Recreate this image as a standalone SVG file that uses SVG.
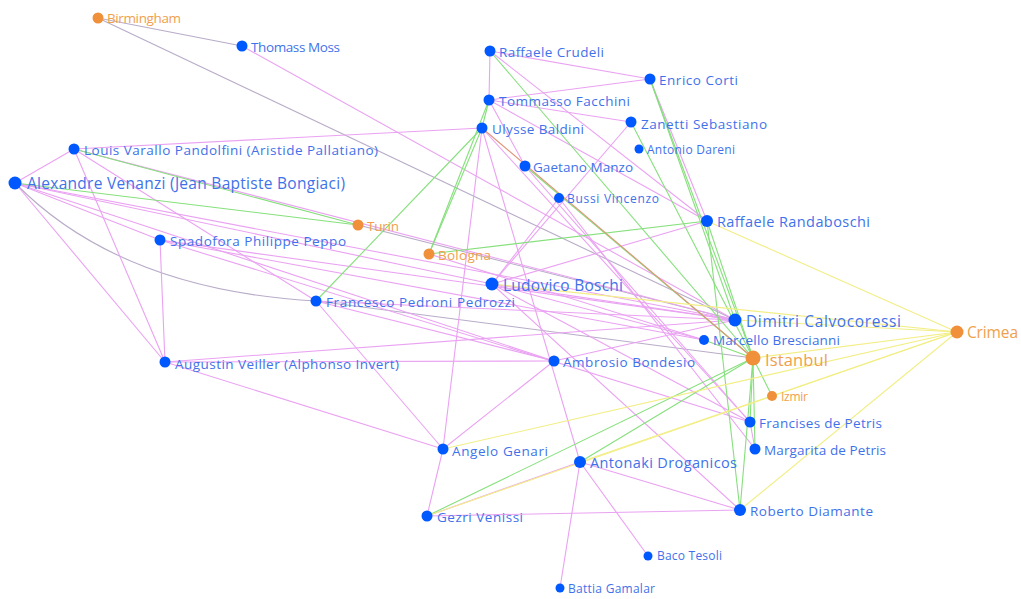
<svg xmlns="http://www.w3.org/2000/svg" width="1021" height="599" viewBox="0 0 1021 599">
<style>
.e line,.e path{fill:none;stroke-width:1.1}
.m{stroke:#eaa2f2}
.g{stroke:#86e07c}
.y{stroke:#f2ee86}
.gr{stroke:#b8acc8}
.o{stroke:#df9578}
.n circle{fill:#0059ff}
.c circle{fill:#f0903a}
text{font-family:"Open Sans","Noto Sans","Liberation Sans",sans-serif;font-size:13.5px;fill:#3f72ea}
.c text{fill:#f0a04c}
.s text{font-size:12px}
.b text{font-size:15.5px}
</style>
<rect width="1021" height="599" fill="#ffffff"/>
<g id="connectors" class="e">
<line class="gr" x1="98" y1="18" x2="242" y2="46"/>
<line class="gr" x1="98" y1="18" x2="735" y2="320"/>
<path class="gr" d="M15,183 Q120,290 316,301"/>
<line class="gr" x1="316" y1="301" x2="753" y2="358"/>
<line class="gr" x1="358" y1="225" x2="735" y2="320"/>
<line class="m" x1="242" y1="46" x2="735" y2="320"/>
<line class="m" x1="490" y1="51" x2="650" y2="79"/>
<line class="m" x1="490" y1="51" x2="489" y2="100"/>
<line class="m" x1="490" y1="51" x2="707" y2="221"/>
<line class="m" x1="489" y1="100" x2="650" y2="79"/>
<line class="m" x1="489" y1="100" x2="631" y2="122"/>
<line class="m" x1="489" y1="100" x2="707" y2="221"/>
<line class="m" x1="489" y1="100" x2="525" y2="166"/>
<line class="m" x1="650" y1="79" x2="707" y2="221"/>
<line class="m" x1="74" y1="149" x2="482" y2="128"/>
<line class="m" x1="74" y1="149" x2="15" y2="183"/>
<line class="m" x1="74" y1="149" x2="165" y2="362"/>
<line class="m" x1="74" y1="149" x2="316" y2="301"/>
<line class="m" x1="74" y1="149" x2="735" y2="320"/>
<line class="m" x1="482" y1="128" x2="443" y2="449"/>
<line class="m" x1="482" y1="128" x2="580" y2="462"/>
<line class="m" x1="482" y1="128" x2="750" y2="422"/>
<line class="m" x1="631" y1="122" x2="492" y2="284"/>
<line class="m" x1="559" y1="198" x2="492" y2="284"/>
<line class="m" x1="559" y1="198" x2="755" y2="449"/>
<line class="m" x1="525" y1="166" x2="750" y2="422"/>
<line class="m" x1="707" y1="221" x2="492" y2="284"/>
<line class="m" x1="15" y1="183" x2="160" y2="240"/>
<line class="m" x1="15" y1="183" x2="165" y2="362"/>
<line class="m" x1="15" y1="183" x2="554" y2="361"/>
<line class="m" x1="15" y1="183" x2="735" y2="320"/>
<line class="m" x1="15" y1="183" x2="492" y2="284"/>
<line class="m" x1="160" y1="240" x2="165" y2="362"/>
<line class="m" x1="160" y1="240" x2="735" y2="320"/>
<line class="m" x1="160" y1="240" x2="704" y2="340"/>
<line class="m" x1="160" y1="240" x2="750" y2="422"/>
<line class="m" x1="165" y1="362" x2="443" y2="449"/>
<line class="m" x1="165" y1="362" x2="554" y2="361"/>
<line class="m" x1="165" y1="362" x2="735" y2="320"/>
<line class="m" x1="316" y1="301" x2="443" y2="449"/>
<line class="m" x1="316" y1="301" x2="735" y2="320"/>
<line class="m" x1="316" y1="301" x2="554" y2="361"/>
<line class="m" x1="429" y1="254" x2="704" y2="340"/>
<line class="m" x1="492" y1="284" x2="735" y2="320"/>
<line class="m" x1="492" y1="284" x2="704" y2="340"/>
<line class="m" x1="492" y1="284" x2="740" y2="510"/>
<line class="m" x1="492" y1="284" x2="750" y2="422"/>
<line class="m" x1="554" y1="361" x2="443" y2="449"/>
<line class="m" x1="554" y1="361" x2="735" y2="320"/>
<line class="m" x1="443" y1="449" x2="427" y2="516"/>
<line class="m" x1="580" y1="462" x2="427" y2="516"/>
<line class="m" x1="580" y1="462" x2="740" y2="510"/>
<line class="m" x1="580" y1="462" x2="648" y2="556"/>
<line class="m" x1="580" y1="462" x2="560" y2="588"/>
<line class="m" x1="427" y1="516" x2="740" y2="510"/>
<line class="m" x1="750" y1="422" x2="755" y2="449"/>
<line class="g" x1="15" y1="183" x2="358" y2="225"/>
<line class="g" x1="74" y1="149" x2="358" y2="225"/>
<line class="g" x1="489" y1="100" x2="482" y2="128"/>
<line class="g" x1="489" y1="100" x2="429" y2="254"/>
<line class="g" x1="482" y1="128" x2="429" y2="254"/>
<line class="g" x1="482" y1="128" x2="316" y2="301"/>
<line class="g" x1="490" y1="51" x2="753" y2="358"/>
<line class="g" x1="650" y1="79" x2="753" y2="358"/>
<line class="g" x1="650" y1="79" x2="735" y2="320"/>
<line class="g" x1="631" y1="122" x2="753" y2="358"/>
<line class="g" x1="525" y1="166" x2="753" y2="358"/>
<line class="g" x1="429" y1="254" x2="707" y2="221"/>
<line class="g" x1="707" y1="221" x2="753" y2="358"/>
<line class="g" x1="707" y1="221" x2="740" y2="510"/>
<line class="g" x1="704" y1="340" x2="753" y2="358"/>
<line class="g" x1="753" y1="358" x2="427" y2="516"/>
<line class="g" x1="753" y1="358" x2="580" y2="462"/>
<line class="g" x1="753" y1="358" x2="740" y2="510"/>
<line class="g" x1="753" y1="358" x2="755" y2="449"/>
<line class="g" x1="753" y1="358" x2="750" y2="422"/>
<line class="g" x1="753" y1="358" x2="772" y2="396"/>
<line class="o" x1="482" y1="128" x2="753" y2="358"/>
<line class="y" x1="957" y1="332" x2="707" y2="221"/>
<line class="y" x1="957" y1="332" x2="735" y2="320"/>
<line class="y" x1="957" y1="332" x2="492" y2="284"/>
<line class="y" x1="957" y1="332" x2="753" y2="358"/>
<line class="y" x1="957" y1="332" x2="443" y2="449"/>
<line class="y" x1="957" y1="332" x2="580" y2="462"/>
<line class="y" x1="957" y1="332" x2="427" y2="516"/>
<line class="y" x1="957" y1="332" x2="740" y2="510"/>
</g>
<g id="n-birmingham" class="c"><circle cx="98" cy="18" r="5.5"/><text x="107" y="18" dy="0.35em" textLength="74">Birmingham</text></g>
<g id="n-thomass-moss" class="n"><circle cx="242" cy="46" r="5.5"/><text x="251" y="47" dy="0.35em" textLength="89">Thomass Moss</text></g>
<g id="n-raffaele-crudeli" class="n"><circle cx="490" cy="51" r="5.5"/><text x="499" y="52" dy="0.35em" textLength="105">Raffaele Crudeli</text></g>
<g id="n-enrico-corti" class="n"><circle cx="650" cy="79" r="5.5"/><text x="659" y="80" dy="0.35em" textLength="79">Enrico Corti</text></g>
<g id="n-tommasso-facchini" class="n"><circle cx="489" cy="100" r="5.5"/><text x="499" y="101" dy="0.35em" textLength="131">Tommasso Facchini</text></g>
<g id="n-ulysse-baldini" class="n"><circle cx="482" cy="128" r="5.5"/><text x="492" y="129" dy="0.35em" textLength="92">Ulysse Baldini</text></g>
<g id="n-zanetti-sebastiano" class="n"><circle cx="631" cy="122" r="5.5"/><text x="641" y="124" dy="0.35em" textLength="126">Zanetti Sebastiano</text></g>
<g id="n-antonio-dareni" class="n s"><circle cx="639" cy="149" r="4.5"/><text x="647" y="150" dy="0.35em" textLength="88">Antonio Dareni</text></g>
<g id="n-louis-varallo" class="n"><circle cx="74" cy="149" r="5.5"/><text x="84" y="150" dy="0.35em" textLength="294">Louis Varallo Pandolfini (Aristide Pallatiano)</text></g>
<g id="n-gaetano-manzo" class="n"><circle cx="525" cy="166" r="5.5"/><text x="533" y="167" dy="0.35em" textLength="100">Gaetano Manzo</text></g>
<g id="n-alexandre-venanzi" class="n b"><circle cx="15" cy="183" r="6.5"/><text x="27" y="184" dy="0.35em" textLength="318">Alexandre Venanzi (Jean Baptiste Bongiaci)</text></g>
<g id="n-bussi-vincenzo" class="n s"><circle cx="559" cy="198" r="5"/><text x="567" y="199" dy="0.35em" textLength="92">Bussi Vincenzo</text></g>
<g id="n-turin" class="c"><circle cx="358" cy="225" r="5.5"/><text x="367" y="226" dy="0.35em" textLength="32">Turin</text></g>
<g id="n-raffaele-randaboschi" class="n"><circle cx="707" cy="221" r="6"/><text x="717" y="222" dy="0.35em" style="font-size:14.5px" textLength="153">Raffaele Randaboschi</text></g>
<g id="n-spadofora" class="n"><circle cx="160" cy="240" r="5.5"/><text x="170" y="241" dy="0.35em" textLength="176">Spadofora Philippe Peppo</text></g>
<g id="n-bologna" class="c"><circle cx="429" cy="254" r="5.5"/><text x="438" y="255" dy="0.35em" textLength="53">Bologna</text></g>
<g id="n-ludovico-boschi" class="n b"><circle cx="492" cy="284" r="6.5"/><text x="503" y="286" dy="0.35em" textLength="120">Ludovico Boschi</text></g>
<g id="n-francesco-pedroni" class="n"><circle cx="316" cy="301" r="5.5"/><text x="326" y="302" dy="0.35em" textLength="189">Francesco Pedroni Pedrozzi</text></g>
<g id="n-dimitri-calvocoressi" class="n b"><circle cx="735" cy="320" r="6.5"/><text x="746" y="322" dy="0.35em" textLength="155">Dimitri Calvocoressi</text></g>
<g id="n-crimea" class="c b"><circle cx="957" cy="332" r="6.5"/><text x="967" y="333" dy="0.35em" textLength="51">Crimea</text></g>
<g id="n-marcello-brescianni" class="n"><circle cx="704" cy="340" r="5"/><text x="713" y="340" dy="0.35em" textLength="127">Marcello Brescianni</text></g>
<g id="n-istanbul" class="c b"><circle cx="753" cy="358" r="7.5"/><text x="765" y="360" dy="0.35em" style="font-size:16.5px" textLength="63">Istanbul</text></g>
<g id="n-ambrosio-bondesio" class="n"><circle cx="554" cy="361" r="5.5"/><text x="563" y="362" dy="0.35em" textLength="132">Ambrosio Bondesio</text></g>
<g id="n-augustin-veiller" class="n"><circle cx="165" cy="362" r="5.5"/><text x="175" y="364" dy="0.35em" textLength="224">Augustin Veiller (Alphonso Invert)</text></g>
<g id="n-izmir" class="c s"><circle cx="772" cy="396" r="5"/><text x="781" y="397" dy="0.35em" textLength="27">Izmir</text></g>
<g id="n-francises-de-petris" class="n"><circle cx="750" cy="422" r="5.5"/><text x="759" y="423" dy="0.35em" textLength="123">Francises de Petris</text></g>
<g id="n-margarita-de-petris" class="n"><circle cx="755" cy="449" r="5.5"/><text x="764" y="450" dy="0.35em" textLength="122">Margarita de Petris</text></g>
<g id="n-angelo-genari" class="n"><circle cx="443" cy="449" r="5.5"/><text x="452" y="451" dy="0.35em" textLength="96">Angelo Genari</text></g>
<g id="n-antonaki-droganicos" class="n"><circle cx="580" cy="462" r="6"/><text x="590" y="463" dy="0.35em" style="font-size:14.5px" textLength="147">Antonaki Droganicos</text></g>
<g id="n-gezri-venissi" class="n"><circle cx="427" cy="516" r="5.5"/><text x="437" y="517" dy="0.35em" textLength="86">Gezri Venissi</text></g>
<g id="n-roberto-diamante" class="n"><circle cx="740" cy="510" r="6"/><text x="750" y="511" dy="0.35em" textLength="123">Roberto Diamante</text></g>
<g id="n-baco-tesoli" class="n s"><circle cx="648" cy="556" r="4.5"/><text x="657" y="556" dy="0.35em" textLength="65">Baco Tesoli</text></g>
<g id="n-battia-gamalar" class="n s"><circle cx="560" cy="588" r="4.5"/><text x="568" y="589" dy="0.35em" textLength="87">Battia Gamalar</text></g>
</svg>
